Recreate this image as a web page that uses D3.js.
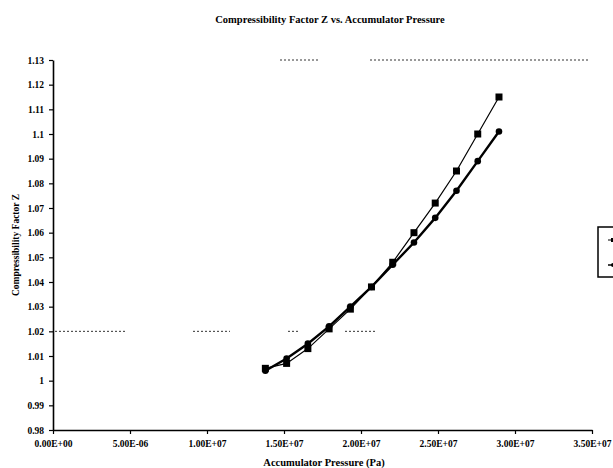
<!DOCTYPE html>
<html><head><meta charset="utf-8">
<script src="https://cdn.jsdelivr.net/npm/d3@7"></script>
<style>
body{margin:0;background:#fff;}
svg{display:block;}
text{font-family:"Liberation Serif","Times New Roman",serif;font-weight:bold;fill:#000;}
</style></head>
<body>
<script>
// Pressure (Pa): 2000..4200 psi in 200 psi steps
const pressures = [1.379e7,1.517e7,1.655e7,1.793e7,1.931e7,2.068e7,2.206e7,2.344e7,2.482e7,2.620e7,2.758e7,2.896e7];
const zSquares = [1.005,1.007,1.013,1.021,1.029,1.038,1.048,1.060,1.072,1.085,1.100,1.115];
const zCircles = [1.004,1.009,1.015,1.022,1.030,1.038,1.047,1.056,1.066,1.077,1.089,1.101];
const xTickValues = [0,5e6,1e7,1.5e7,2e7,2.5e7,3e7,3.5e7];
const xTickLabels = ["0.00E+00","5.00E-06","1.00E+07","1.50E+07","2.00E+07","2.50E+07","3.00E+07","3.50E+07"];
const yTickValues = [0.98,0.99,1,1.01,1.02,1.03,1.04,1.05,1.06,1.07,1.08,1.09,1.1,1.11,1.12,1.13];
const yTickLabels = ["0.98","0.99","1","1.01","1.02","1.03","1.04","1.05","1.06","1.07","1.08","1.09","1.1","1.11","1.12","1.13"];
const titleText = "Compressibility Factor Z vs. Accumulator Pressure";
const xTitle = "Accumulator Pressure (Pa)";
const yTitle = "Compressibility Factor Z";

const W=613,H=468;
const svg=d3.select("body").append("svg").attr("width",W).attr("height",H);
const x=d3.scaleLinear().domain([0,3.5e7]).range([53,592]);
const y=d3.scaleLinear().domain([0.98,1.13]).range([430,60]);

// faint scan remnants of gridlines (dashed)
const dash = [[55,125,1.02],[193,230,1.02],[288,300,1.02],[345,375,1.02],[280,320,1.13],[370,590,1.13]];
svg.selectAll("line.dash").data(dash).enter().append("line")
  .attr("x1",d=>d[0]).attr("x2",d=>d[1]).attr("y1",d=>y(d[2])).attr("y2",d=>y(d[2]))
  .attr("stroke","#333").attr("stroke-width",1).attr("stroke-dasharray","2,2");

// axes
const xAxis=d3.axisBottom(x).tickValues(xTickValues).tickFormat((d,i)=>xTickLabels[i]).tickSize(4).tickSizeOuter(0);
const gx=svg.append("g").attr("transform","translate(0,430)").call(xAxis);
gx.select(".domain").attr("stroke","#000").attr("stroke-width",1.6);
gx.selectAll(".tick line").attr("stroke","#000").attr("stroke-width",1.2);
gx.selectAll(".tick text").attr("font-size","9.5px").attr("font-family","Liberation Serif, serif").attr("font-weight","bold").attr("dy","1em");

const yAxis=d3.axisLeft(y).tickValues(yTickValues).tickFormat((d,i)=>yTickLabels[i]).tickSize(4).tickSizeOuter(0);
const gy=svg.append("g").attr("transform","translate(53,0)").call(yAxis);
gy.select(".domain").attr("stroke","#000").attr("stroke-width",1.6);
gy.selectAll(".tick line").attr("stroke","#000").attr("stroke-width",1.2);
gy.selectAll(".tick text").attr("font-size","9.5px").attr("font-family","Liberation Serif, serif").attr("font-weight","bold").attr("x",-9);

// titles
svg.append("text").attr("x",330).attr("y",23).attr("text-anchor","middle").attr("font-size","10.5px").text(titleText);
svg.append("text").attr("x",324).attr("y",466).attr("text-anchor","middle").attr("font-size","10.5px").text(xTitle);
svg.append("text").attr("transform","translate(19,245) rotate(-90)").attr("text-anchor","middle").attr("font-size","9.5px").text(yTitle);

// series
const line=d3.line().x(d=>x(d[0])).y(d=>y(d[1]));
const sq=pressures.map((p,i)=>[p,zSquares[i]]);
const ci=pressures.map((p,i)=>[p,zCircles[i]]);
svg.append("path").datum(ci).attr("d",line).attr("fill","none").attr("stroke","#000").attr("stroke-width",2.4);
svg.append("path").datum(sq).attr("d",line).attr("fill","none").attr("stroke","#000").attr("stroke-width",1.2);
svg.selectAll("rect.sq").data(sq).enter().append("rect")
  .attr("x",d=>x(d[0])-3.5).attr("y",d=>y(d[1])-3.5).attr("width",7).attr("height",7).attr("fill","#000");
svg.selectAll("circle.ci").data(ci).enter().append("circle")
  .attr("cx",d=>x(d[0])).attr("cy",d=>y(d[1])).attr("r",3.3).attr("fill","#000");

// legend (clipped at right edge)
const lg=svg.append("g");
lg.append("rect").attr("x",598).attr("y",227).attr("width",40).attr("height",50).attr("fill","#fff").attr("stroke","#000").attr("stroke-width",1.5);
lg.append("line").attr("x1",608).attr("x2",630).attr("y1",240).attr("y2",240).attr("stroke","#000").attr("stroke-width",1);
lg.append("rect").attr("x",611).attr("y",238).attr("width",4).attr("height",4).attr("fill","#000");
lg.append("line").attr("x1",608).attr("x2",630).attr("y1",265).attr("y2",265).attr("stroke","#000").attr("stroke-width",1.5);
lg.append("circle").attr("cx",613).attr("cy",265).attr("r",2).attr("fill","#000");
</script>
</body></html>
